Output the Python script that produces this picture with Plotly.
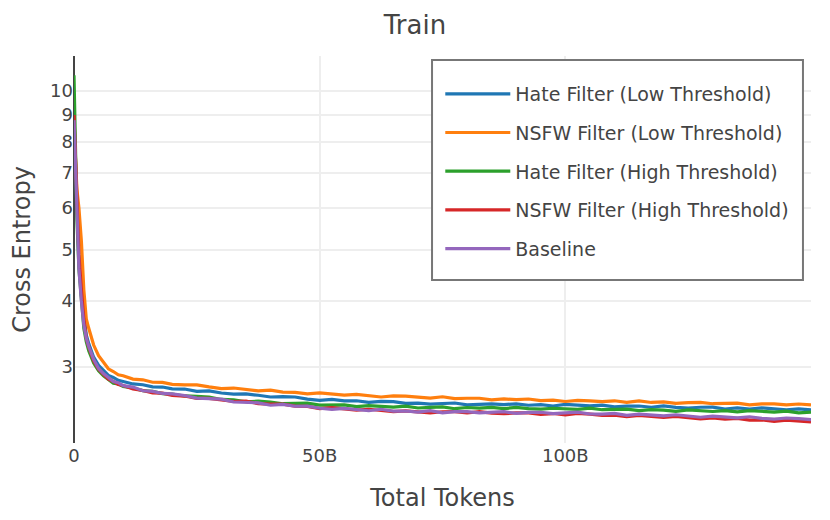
import plotly.graph_objects as go

# x positions in billions of tokens
tokens_b = [0, 0.3, 0.6, 1, 1.5, 2, 2.5, 3, 4, 5, 6, 7, 8, 9, 10, 12, 14, 16, 18, 20,
            22.5, 25, 27.5, 30, 32.5, 35, 37.5, 40, 42.5, 45, 47.5, 50, 52.5, 55, 57.5, 60,
            62.5, 65, 67.5, 70, 72.5, 75, 77.5, 80, 82.5, 85, 87.5, 90, 92.5, 95, 97.5, 100,
            102.5, 105, 107.5, 110, 112.5, 115, 117.5, 120, 122.5, 125, 127.5, 130, 132.5,
            135, 137.5, 140, 142.5, 145, 147.5, 150]

hate_low = [8.9, 7.2, 6.0, 4.8, 4.1, 3.7, 3.45, 3.32, 3.13, 3.02, 2.96, 2.89, 2.865, 2.83, 2.815,
            2.785, 2.775, 2.75, 2.748, 2.727,
            2.724, 2.697, 2.702, 2.677, 2.664, 2.667, 2.651, 2.631, 2.635, 2.631, 2.606, 2.593,
            2.603, 2.588, 2.588, 2.570, 2.581, 2.579, 2.560, 2.561, 2.551, 2.559, 2.563, 2.542,
            2.546, 2.553, 2.545, 2.554, 2.538, 2.544, 2.530, 2.547, 2.540, 2.531, 2.540, 2.521,
            2.528, 2.530, 2.516, 2.530, 2.515, 2.508, 2.516, 2.518, 2.497, 2.508, 2.497, 2.509,
            2.498, 2.487, 2.498, 2.487]

nsfw_low = [8.5, 7.5, 6.5, 6.0, 5.2, 4.2, 3.7, 3.55, 3.3, 3.15, 3.06, 2.975, 2.94, 2.898, 2.887,
            2.845, 2.836, 2.806, 2.805, 2.781,
            2.775, 2.774, 2.750, 2.730, 2.736, 2.723, 2.703, 2.711, 2.688, 2.685, 2.668, 2.678,
            2.666, 2.652, 2.662, 2.643, 2.631, 2.643, 2.641, 2.629, 2.618, 2.634, 2.613, 2.617,
            2.617, 2.599, 2.609, 2.600, 2.608, 2.589, 2.596, 2.580, 2.593, 2.586, 2.578, 2.588,
            2.571, 2.586, 2.569, 2.575, 2.559, 2.567, 2.571, 2.555, 2.556, 2.562, 2.542, 2.554,
            2.553, 2.542, 2.552, 2.541]

hate_high = [10.7, 7.3, 5.7, 4.6, 3.95, 3.55, 3.35, 3.22, 3.05, 2.95, 2.885, 2.845, 2.795, 2.786,
             2.755, 2.736, 2.705, 2.696, 2.671, 2.664,
             2.643, 2.638, 2.629, 2.603, 2.598, 2.577, 2.584, 2.574, 2.555, 2.558, 2.561, 2.539,
             2.537, 2.543, 2.523, 2.533, 2.525, 2.517, 2.528, 2.508, 2.515, 2.520, 2.500, 2.513,
             2.507, 2.514, 2.501, 2.514, 2.501, 2.495, 2.505, 2.501, 2.492, 2.506, 2.489, 2.492,
             2.496, 2.479, 2.491, 2.484, 2.472, 2.488, 2.480, 2.470, 2.480, 2.465, 2.480, 2.468,
             2.463, 2.473, 2.456, 2.463]

nsfw_high = [9.0, 7.4, 5.9, 4.9, 4.2, 3.7, 3.4, 3.27, 3.08, 2.97, 2.905, 2.843, 2.815, 2.779,
             2.766, 2.724, 2.707, 2.679, 2.676, 2.649,
             2.642, 2.615, 2.616, 2.598, 2.580, 2.584, 2.556, 2.551, 2.551, 2.529, 2.525, 2.501,
             2.511, 2.498, 2.484, 2.494, 2.477, 2.468, 2.477, 2.470, 2.456, 2.467, 2.468, 2.454,
             2.468, 2.453, 2.446, 2.455, 2.456, 2.440, 2.448, 2.434, 2.450, 2.442, 2.428, 2.432,
             2.416, 2.427, 2.419, 2.407, 2.418, 2.403, 2.392, 2.401, 2.389, 2.397, 2.378, 2.382,
             2.366, 2.379, 2.369, 2.360]

baseline = [8.8, 7.0, 5.6, 4.6, 4.0, 3.6, 3.4, 3.28, 3.1, 2.98, 2.915, 2.866, 2.814, 2.801, 2.764,
            2.747, 2.704, 2.697, 2.672, 2.667,
            2.648, 2.619, 2.613, 2.606, 2.574, 2.572, 2.565, 2.538, 2.547, 2.527, 2.529, 2.505,
            2.493, 2.503, 2.493, 2.478, 2.494, 2.474, 2.475, 2.463, 2.478, 2.455, 2.468, 2.469,
            2.455, 2.458, 2.468, 2.449, 2.460, 2.462, 2.447, 2.455, 2.462, 2.443, 2.442, 2.450,
            2.429, 2.441, 2.435, 2.423, 2.435, 2.418, 2.409, 2.420, 2.412, 2.402, 2.414, 2.397,
            2.389, 2.401, 2.395, 2.383]

series_names = ["Hate Filter (Low Threshold)", "NSFW Filter (Low Threshold)",
                "Hate Filter (High Threshold)", "NSFW Filter (High Threshold)", "Baseline"]
series_values = [hate_low, nsfw_low, hate_high, nsfw_high, baseline]
colors = ["#1f77b4", "#ff7f0e", "#2ca02c", "#d62728", "#9467bd"]

y_ticks = [3, 4, 5, 6, 7, 8, 9, 10]

x_tokens = [v * 1e9 for v in tokens_b]

fig = go.Figure()
for i, (name, vals, col) in enumerate(zip(series_names, series_values, colors)):
    fig.add_trace(go.Scatter(x=x_tokens, y=vals, mode="lines", name=name,
                             legendgroup=f"g{i}",
                             line=dict(color=col, width=3.2)))

# legend frame (drawn as a shape so its padding can match)
fig.add_shape(type="rect", xref="paper", yref="paper",
              x0=0.4858, x1=0.9891, y0=0.4212, y1=0.9897,
              line=dict(color="#777777", width=2), fillcolor="white", layer="above")

font_family = "DejaVu Sans"
fig.update_layout(
    width=814, height=504,
    paper_bgcolor="white", plot_bgcolor="white",
    font=dict(family=font_family, color="#444", size=18),
    title=dict(text="Train", x=0.5, xanchor="center", xref="container",
               y=1 - 17 / 504, yanchor="middle", yref="container",
               font=dict(size=26, color="#444")),
    margin=dict(l=66, r=11, t=48, b=69),
    showlegend=True,
    legend=dict(x=0.497, xanchor="left", y=0.951, yanchor="top",
                borderwidth=0, bgcolor="rgba(0,0,0,0)",
                font=dict(size=19, color="#444"), tracegroupgap=11, itemwidth=65),
)
fig.update_xaxes(range=[0, 150e9], dtick=50e9, tick0=0, showgrid=True, gridcolor="#eeeeee",
                 gridwidth=2, zeroline=True, zerolinecolor="#444", zerolinewidth=2,
                 showline=False, ticks="", tickfont=dict(size=18), automargin=False,
                 title=dict(text="Total Tokens", font=dict(size=24), standoff=40))
fig.update_yaxes(type="log", range=[0.333, 1.066], tickvals=y_ticks,
                 ticktext=[str(t) for t in y_ticks], showgrid=True, gridcolor="#eeeeee",
                 gridwidth=2, zeroline=False, showline=False, ticks="", tickfont=dict(size=18),
                 automargin=False,
                 title=dict(text="Cross Entropy", font=dict(size=24), standoff=27))

fig.write_html("out.html")
